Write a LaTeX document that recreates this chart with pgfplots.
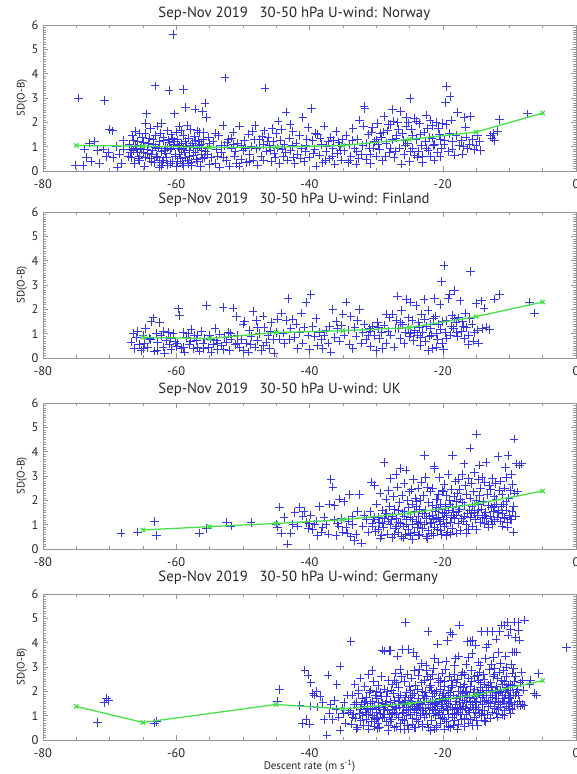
\documentclass[border=0pt]{standalone}
\usepackage{pgfplots}
\pgfplotsset{compat=1.18}
\usepackage{fontspec}
\setmainfont{PT Sans}

\definecolor{obsblue}{RGB}{55,55,228}
\definecolor{fitgreen}{RGB}{70,225,70}
\definecolor{framegray}{RGB}{150,150,150}

\pgfplotsset{
  panel/.style={
    scale only axis, width=533bp, height=146bp, anchor=north west,
    xmin=-80, xmax=0, ymin=0, ymax=6,
    xtick={-80,-60,...,0}, ytick={0,1,...,6},
    minor x tick num=3, minor y tick num=9,
    tick align=inside,
    major tick length=5bp, minor tick length=3bp,
    axis line style={framegray, line width=0.6bp},
    every tick/.style={framegray, line width=0.5bp},
    tick label style={font=\fontsize{12.5}{14}\selectfont, text=black!85},
    /pgf/number format/assume math mode=true,
    xticklabel style={anchor=center, yshift=-13bp},
    yticklabel style={anchor=center, xshift=-8bp},
    ylabel={SD(O-B)},
    every axis y label/.style={at={(axis description cs:-0.0394,0.5)}, rotate=90,
      anchor=center, font=\fontsize{11}{12}\selectfont, text=black!85},
    every axis x label/.style={at={(axis description cs:0.5,0)}, anchor=center,
      yshift=-26bp, font=\fontsize{11}{12}\selectfont, text=black!85},
    title style={at={(axis description cs:0.21,1)}, anchor=west,
      font=\fontsize{14.8}{16}\selectfont, text=black!85},
    clip marker paths=true,
  },
  obs/.style={only marks, mark=+, mark size=4.3bp, draw=obsblue, color=obsblue,
    mark options={draw=obsblue, line width=0.7bp}},
  binned/.style={draw=fitgreen, line width=1.3bp, mark=x, mark size=3bp,
    mark options={draw=fitgreen}},
}

\begin{document}
\begin{tikzpicture}

% ---------------- Norway ----------------
\begin{axis}[panel, at={(43bp,-25bp)}, title style={yshift=5bp},
  title={Sep-Nov 2019\ \ \ 30-50 hPa U-wind: Norway}]
\addplot[obs] coordinates {
(-75.2,0.25) (-74.0,0.22) (-74.7,3.0) (-73.5,0.55) (-73.0,1.15) (-72.3,1.2) (-71.8,0.85) (-71.0,0.9)
(-70.8,2.9) (-70.5,0.6) (-70.0,1.7) (-69.6,1.65) (-69.5,0.55) (-69.0,1.0) (-68.8,0.15) (-68.5,0.7)
(-68.2,0.3) (-67.9,1.25) (-68.0,0.9) (-72.8,0.4) (-71.5,0.3) (-70.2,0.75) (-73.8,0.9)
(-67.0,1.10) (-66.8,0.55) (-66.6,1.45) (-66.5,0.85) (-66.3,0.30) (-66.1,1.62) (-66.0,0.95) (-65.8,1.20)
(-65.6,0.62) (-65.5,0.42) (-65.3,1.05) (-65.1,1.38) (-65.0,0.75) (-64.8,0.20) (-64.7,1.55) (-64.5,2.35)
(-64.4,0.90) (-64.2,1.12) (-64.0,0.50) (-63.9,1.75) (-63.7,0.68) (-63.5,1.30) (-63.3,0.35) (-63.2,3.50)
(-63.1,0.98) (-62.9,1.85) (-62.8,0.58) (-62.6,1.22) (-62.5,0.15) (-62.3,0.80) (-62.2,1.95) (-62.0,1.40)
(-61.9,0.45) (-61.7,1.00) (-61.6,0.72) (-61.4,1.65) (-61.3,0.25) (-61.1,3.32) (-61.0,1.18) (-60.9,0.88)
(-60.8,1.50) (-60.6,0.40) (-60.5,5.62) (-60.4,1.08) (-60.3,2.35) (-60.1,0.62) (-60.0,0.18) (-59.9,1.28)
(-59.7,0.95) (-59.6,1.82) (-59.4,0.52) (-59.3,1.12) (-59.1,0.30) (-59.0,1.45) (-58.9,3.35) (-58.8,0.78)
(-58.6,2.62) (-58.5,1.02) (-58.3,0.45) (-58.2,1.35) (-58.0,0.85) (-57.9,1.70) (-57.7,0.22) (-57.6,1.15)
(-57.4,0.65) (-57.2,2.55) (-57.1,1.25) (-56.9,0.92) (-56.8,0.38) (-56.6,1.58) (-56.5,1.05) (-56.3,0.70)
(-56.1,2.45) (-56.0,1.30) (-55.8,0.55) (-55.7,2.80) (-55.5,2.20) (-55.4,0.95) (-55.2,1.40) (-55.0,0.28)
(-66.2,1.00) (-65.9,0.78) (-65.4,0.95) (-64.9,1.18) (-64.3,0.72) (-63.8,0.40) (-63.4,1.10) (-62.7,0.95)
(-62.4,1.55) (-61.8,0.85) (-61.2,1.28) (-60.7,0.95) (-60.2,0.70) (-59.8,0.38) (-59.2,0.88) (-58.7,1.20)
(-58.1,0.60) (-57.5,0.98) (-57.0,0.48) (-56.7,1.20) (-56.2,0.85) (-55.9,1.60) (-55.3,0.68) (-64.6,1.95)
(-62.1,0.35) (-60.0,1.60) (-58.4,1.88) (-57.8,0.35) (-56.4,0.18) (-63.6,0.85) (-61.5,0.55) (-59.5,1.05)
(-67.2,0.60) (-66.7,0.88)
(-66.9,0.75) (-66.4,1.25) (-65.7,0.50) (-65.2,0.88) (-64.1,1.35) (-63.0,0.62) (-62.6,0.42) (-61.4,0.95)
(-60.9,0.30) (-60.3,1.20) (-59.6,0.70) (-59.0,0.95) (-58.6,0.55) (-57.9,1.05) (-57.3,1.42) (-56.9,1.65)
(-56.3,1.10) (-55.6,0.80) (-55.1,1.15) (-64.6,0.58) (-63.1,1.45) (-61.9,1.25) (-60.6,1.35) (-59.3,1.65)
(-58.2,0.32) (-57.2,0.78) (-56.1,0.52) (-65.5,1.55) (-62.3,0.22) (-58.9,0.22)
(-54.8,0.55) (-54.5,1.20) (-54.2,0.32) (-54.0,0.90) (-53.7,1.45) (-53.5,0.15) (-53.2,0.75) (-53.0,1.88)
(-52.8,1.05) (-52.7,3.83) (-52.5,0.42) (-52.2,1.30) (-52.0,0.20) (-51.8,0.95) (-51.5,1.60) (-51.3,0.62)
(-51.0,0.30) (-50.8,1.15) (-50.5,1.85) (-50.3,0.48) (-50.0,0.85) (-49.8,1.25) (-49.5,0.35) (-49.2,1.52)
(-49.0,0.70) (-48.8,1.00) (-48.5,0.45) (-48.2,1.88) (-48.0,0.92) (-47.8,0.25) (-47.5,1.30) (-47.3,0.60)
(-47.0,1.10) (-46.8,1.65) (-46.7,3.41) (-46.5,0.82) (-46.2,1.40) (-46.0,1.05) (-45.8,0.38) (-45.5,1.22)
(-45.3,0.72) (-45.0,1.55) (-44.8,0.95) (-44.5,0.30) (-44.2,1.70) (-44.0,0.62) (-43.8,1.08) (-43.5,2.42)
(-43.3,0.45) (-43.0,1.35) (-42.8,0.85) (-42.5,1.62) (-42.2,0.30) (-42.0,1.15) (-41.8,0.68) (-41.5,1.45)
(-41.2,0.92) (-41.0,2.20) (-40.8,0.40) (-40.5,1.05) (-40.2,1.78) (-40.0,0.58) (-39.7,2.56) (-39.5,1.25)
(-39.2,0.88) (-39.0,0.20) (-38.8,1.50) (-38.5,0.65) (-38.2,1.10) (-38.0,0.35) (-37.8,1.85) (-37.5,0.80)
(-37.2,1.20) (-37.0,0.50) (-36.8,1.40) (-36.5,0.95) (-36.2,0.28) (-36.0,1.62) (-35.8,0.72) (-35.5,1.05)
(-35.2,0.45) (-35.0,1.30)
(-53.8,0.62) (-52.4,1.18) (-51.2,0.82) (-50.2,1.05) (-49.0,0.40) (-47.6,0.98) (-46.4,1.22) (-45.2,0.55)
(-44.4,1.25) (-43.6,0.78) (-42.6,1.05) (-41.4,0.50) (-40.4,1.30) (-39.4,0.72) (-38.4,1.35) (-37.4,1.02)
(-36.6,0.60) (-35.6,1.18) (-48.6,1.62) (-44.7,2.05) (-42.9,1.92) (-50.6,0.20) (-53.3,1.05) (-45.9,0.85)
(-47.1,1.42) (-51.7,1.35)
(-54.1,1.55) (-52.9,0.55) (-51.4,1.08) (-49.6,0.95) (-48.3,1.28) (-46.9,0.45) (-45.6,1.75) (-44.1,0.90)
(-42.4,0.58) (-40.6,0.80) (-39.1,1.55) (-37.6,0.42) (-36.4,1.25) (-35.4,0.85)
(-34.8,0.85) (-34.5,1.45) (-34.2,0.35) (-34.0,1.10) (-33.8,0.62) (-33.5,1.75) (-33.2,0.92) (-33.0,0.28)
(-32.8,1.30) (-32.5,2.10) (-32.2,0.70) (-32.0,1.05) (-31.8,2.65) (-31.7,2.58) (-31.5,0.48) (-31.2,1.50)
(-31.0,0.95) (-30.8,0.30) (-30.5,1.78) (-30.2,1.20) (-30.0,0.62) (-29.8,1.95) (-29.5,0.88) (-29.2,1.40)
(-29.0,0.42) (-28.8,2.25) (-28.5,1.12) (-28.3,1.65) (-28.0,0.75) (-27.8,1.90) (-27.5,2.52) (-27.3,0.55)
(-27.0,1.35) (-26.8,2.00) (-26.5,0.95) (-26.3,2.45) (-26.0,1.55) (-25.8,0.68) (-25.5,1.85) (-25.3,1.15)
(-25.0,0.40) (-24.9,2.97) (-24.7,1.72) (-24.5,0.92) (-24.2,2.15) (-24.0,1.30) (-23.8,0.58) (-23.5,1.95)
(-23.2,1.05) (-23.0,0.35) (-22.8,1.60) (-22.5,2.30) (-22.2,0.85) (-22.0,1.40) (-21.8,0.62) (-21.5,1.88)
(-21.2,1.10) (-21.0,2.00) (-20.8,0.75) (-20.5,1.50) (-20.2,0.95) (-20.0,1.95) (-19.7,1.25) (-19.6,2.81)
(-19.4,3.47) (-18.9,3.07) (-19.2,0.80) (-19.0,1.55) (-18.7,2.10) (-18.5,1.20) (-18.2,0.65) (-18.0,1.45)
(-17.8,2.40) (-17.5,1.05)
(-33.6,1.25) (-32.6,0.50) (-31.4,1.15) (-30.4,0.95) (-29.4,1.55) (-28.6,0.60) (-27.6,1.30) (-26.6,1.70)
(-25.6,1.05) (-24.6,1.45) (-23.6,0.80) (-22.6,1.20) (-21.6,1.35) (-20.6,1.75) (-19.8,1.10) (-26.2,0.28)
(-28.2,1.90) (-23.9,2.05) (-21.3,0.45) (-29.9,1.28) (-25.2,1.98) (-22.4,0.95) (-20.3,1.30) (-27.1,0.82)
(-24.3,0.65) (-30.7,1.60)
(-33.9,0.45) (-32.9,0.80) (-31.9,1.85) (-30.9,0.70) (-29.7,1.10) (-28.9,1.60) (-27.9,0.95) (-26.9,1.45)
(-25.9,1.25) (-24.8,0.80) (-23.4,1.50) (-22.3,1.75) (-21.4,1.05) (-20.4,0.60) (-19.5,1.90) (-18.6,0.90)
(-27.4,2.05) (-25.4,2.20) (-23.1,0.60) (-21.9,2.10)
(-17.2,1.25) (-16.8,2.20) (-16.6,1.80) (-16.5,1.40) (-16.3,0.92) (-16.0,1.10) (-15.8,2.25) (-15.5,1.30)
(-15.3,0.88) (-15.0,1.05) (-14.8,1.45) (-14.5,1.20) (-14.3,0.85) (-12.8,1.45) (-12.6,1.35) (-12.4,1.55)
(-12.2,1.25) (-11.8,1.62) (-11.5,2.12) (-7.3,2.35) (-16.9,1.00) (-17.0,0.70)
};
\addplot[binned] coordinates {
(-75,1.05) (-65,1.02) (-55,0.97) (-45,0.98) (-35,1.05) (-25,1.30) (-15,1.60) (-5,2.38)
};
\end{axis}

% ---------------- Finland ----------------
\begin{axis}[panel, at={(43bp,-212bp)}, title style={yshift=6bp},
  title={Sep-Nov 2019\ \ \ 30-50 hPa U-wind: Finland}]
\addplot[obs] coordinates {
(-66.8,0.65) (-66.5,1.02) (-66.3,0.40) (-66.0,0.85) (-65.8,1.10) (-65.5,0.55) (-65.3,0.30) (-65.0,0.95)
(-64.8,0.60) (-64.6,1.20) (-64.3,0.42) (-64.0,0.80) (-63.8,1.50) (-63.5,1.65) (-63.3,0.28) (-63.0,1.00)
(-62.8,0.65) (-62.5,1.45) (-62.3,0.92) (-62.0,0.45) (-61.8,0.20) (-61.5,0.72) (-61.2,1.05) (-61.0,0.58)
(-60.8,0.35) (-60.5,1.00) (-60.2,0.68) (-60.0,0.48) (-59.7,2.02) (-59.5,1.75) (-59.3,0.40) (-59.0,1.05)
(-58.8,0.25) (-58.5,0.85) (-58.2,1.00) (-58.0,0.55) (-57.8,1.18) (-57.5,0.38) (-57.3,0.92) (-57.0,0.72)
(-56.8,0.45) (-56.5,0.28) (-56.2,1.10) (-56.0,0.62) (-55.8,0.80) (-55.5,2.15) (-55.2,0.42) (-55.0,0.95)
(-54.8,0.25) (-54.5,0.58) (-54.2,1.20) (-54.0,0.72) (-53.8,0.35) (-53.5,0.98) (-53.2,0.50) (-53.0,2.08)
(-52.8,0.85) (-52.5,0.65) (-52.2,1.05) (-52.0,0.30) (-51.8,0.78) (-51.5,2.05) (-51.2,0.55) (-51.0,1.70)
(-50.8,0.95) (-50.5,0.42) (-50.2,0.75) (-50.0,1.40) (-49.8,1.50) (-49.5,0.62) (-49.2,0.25) (-49.0,1.15)
(-48.8,0.88) (-48.5,1.92) (-48.2,0.45) (-48.0,1.55) (-47.8,0.72) (-47.5,1.00) (-47.2,0.30) (-47.0,1.72)
(-46.8,1.25) (-46.5,0.65) (-46.2,0.92) (-46.0,0.40) (-45.8,1.45) (-45.5,0.75) (-45.3,0.20) (-45.0,1.05)
(-64.9,0.40) (-63.9,0.75) (-62.9,0.30) (-61.9,1.10) (-60.9,0.80) (-59.9,0.62) (-58.9,0.42) (-57.9,0.70)
(-56.9,0.95) (-55.9,0.38) (-54.9,0.78) (-53.9,0.60) (-52.9,0.35) (-51.9,1.00) (-50.9,0.62) (-49.9,0.30)
(-48.9,0.55) (-47.9,1.25) (-46.9,0.50) (-45.9,1.10)
(-44.8,1.60) (-44.5,0.78) (-44.2,1.85) (-44.0,1.02) (-43.8,0.60) (-43.5,1.55) (-43.2,2.45) (-43.0,0.75)
(-42.8,1.20) (-42.5,1.60) (-42.2,0.85) (-42.0,1.40) (-41.8,0.40) (-41.5,1.05) (-41.2,1.85) (-41.0,0.62)
(-40.8,1.25) (-40.5,2.28) (-40.2,0.95) (-40.0,0.35) (-39.8,2.62) (-39.5,1.30) (-39.2,0.88) (-39.0,1.62)
(-38.8,0.50) (-38.5,1.05) (-38.2,0.75) (-38.0,0.40) (-37.8,0.95) (-37.5,1.15) (-37.2,0.62) (-37.0,1.30)
(-36.8,0.25) (-36.5,2.00) (-36.2,0.85) (-36.0,1.50) (-35.8,1.20) (-35.5,0.70) (-35.2,1.35) (-35.0,1.80)
(-34.8,0.95) (-34.5,2.30) (-34.2,1.15) (-34.0,0.55) (-33.8,1.70) (-33.5,0.40) (-33.2,1.25) (-33.0,0.90)
(-32.8,1.55) (-32.5,2.00) (-32.2,0.62) (-32.0,1.05) (-31.8,1.40) (-31.5,0.75) (-31.2,0.95) (-31.0,1.20)
(-30.8,0.48) (-30.5,1.30) (-30.2,0.92) (-30.0,0.30) (-29.8,1.45) (-29.5,0.80) (-29.2,1.05) (-29.0,0.38)
(-28.8,1.35) (-28.5,0.62) (-28.2,1.10) (-28.0,1.65)
(-27.8,0.95) (-27.5,1.80) (-27.3,0.45) (-27.0,1.55) (-26.8,2.55) (-26.6,1.20) (-26.4,0.80) (-26.2,1.95)
(-26.0,1.40) (-25.8,0.60) (-25.6,1.05) (-25.4,2.40) (-25.2,1.25) (-25.0,0.88) (-24.8,2.30) (-24.6,1.55)
(-24.4,0.72) (-24.2,1.15) (-24.0,2.15) (-23.8,0.95) (-23.6,1.45) (-23.4,0.50) (-23.2,1.80) (-23.0,1.05)
(-22.8,2.40) (-22.6,0.68) (-22.4,1.30) (-22.2,1.95) (-22.0,0.90) (-21.8,1.20) (-21.6,0.40) (-21.4,1.62)
(-21.2,2.45) (-21.0,1.00) (-20.8,0.75) (-20.6,1.40) (-20.4,2.20) (-20.2,3.15) (-20.0,0.60) (-19.8,3.80)
(-19.6,1.05) (-19.4,1.55) (-19.2,2.45) (-19.0,2.62) (-18.8,0.95) (-18.6,1.75) (-18.4,1.20) (-18.2,2.78)
(-18.0,1.45) (-17.8,0.88) (-17.6,1.65) (-17.4,2.35) (-17.2,1.10) (-17.0,1.50) (-16.8,0.80) (-16.6,1.85)
(-16.4,1.25) (-16.2,0.55) (-16.0,1.62) (-15.8,3.55) (-15.6,1.40) (-15.4,0.70) (-15.2,1.05) (-15.0,2.25)
(-14.8,1.15) (-14.6,0.62) (-14.2,2.35) (-14.0,1.20) (-13.8,2.05) (-13.5,1.28) (-13.0,1.18) (-12.2,2.42)
(-11.5,2.62) (-7.0,2.30) (-6.2,1.85)
(-25.1,1.65) (-24.3,1.05) (-23.5,1.25) (-22.7,1.60) (-21.9,1.40) (-21.1,1.72) (-20.3,1.18) (-19.5,0.82)
(-18.7,1.30) (-17.9,1.05) (-20.9,0.45) (-22.1,0.30) (-19.9,0.35) (-23.3,0.85) (-26.3,1.45) (-27.1,1.20)
(-28.4,1.80) (-29.6,1.25) (-30.9,1.10) (-24.9,1.00) (-21.7,0.95) (-20.1,1.50) (-18.3,1.62) (-16.9,1.30)
(-16.1,0.95)
};
\addplot[binned] coordinates {
(-65,0.85) (-55,0.80) (-45,1.05) (-35,1.12) (-25,1.25) (-15,1.70) (-5,2.30)
};
\end{axis}

% ---------------- UK ----------------
\begin{axis}[panel, at={(43bp,-403bp)}, title style={yshift=7bp},
  title={Sep-Nov 2019\ \ \ 30-50 hPa U-wind: UK}]
\addplot[obs] coordinates {
(-68.3,0.65) (-65.8,0.70) (-63.3,1.12) (-63.0,0.55) (-56.5,0.65) (-55.5,0.85) (-52.5,1.08) (-51.8,0.95)
(-48.8,1.10) (-44.8,0.90) (-44.5,1.72) (-44.2,0.65) (-43.3,0.20) (-42.8,0.65) (-42.2,1.50) (-41.5,1.70)
(-41.0,1.35) (-40.5,1.10) (-40.2,0.85) (-39.8,1.40) (-39.5,0.80) (-39.0,1.15) (-38.5,1.75) (-38.0,0.90)
(-37.5,1.00) (-37.2,0.62) (-36.8,2.85) (-36.5,2.55) (-36.2,1.80) (-36.0,0.55) (-35.8,1.05) (-35.5,2.05)
(-35.2,1.25) (-35.0,0.70) (-34.8,1.95) (-34.5,0.88) (-34.2,1.15) (-34.0,2.25) (-33.8,0.50) (-33.5,1.00)
(-33.2,0.35) (-33.0,0.60) (-32.8,1.55) (-32.5,2.25) (-32.2,0.25) (-32.0,0.95) (-31.8,1.40) (-31.5,1.20)
(-31.2,0.70) (-43.8,1.30) (-42.5,1.00) (-41.8,0.95) (-40.8,1.55) (-38.8,0.55) (-37.8,1.30) (-37.0,1.85)
(-36.3,1.20) (-35.6,0.95) (-34.3,0.65) (-33.6,1.35) (-38.2,0.70) (-39.2,1.02) (-40.0,1.05) (-45.0,1.02)
(-30.9,1.55) (-30.7,2.75) (-30.5,0.95) (-30.4,1.20) (-30.2,2.60) (-30.1,0.72)
(-29.9,1.85) (-29.7,0.80) (-29.6,1.30) (-29.4,2.30) (-29.2,0.55) (-29.1,1.05) (-29.0,1.60)
(-28.9,0.90) (-28.8,3.55) (-28.6,1.45) (-28.5,2.05) (-28.3,0.62) (-28.2,1.15) (-28.1,2.40) (-28.0,1.75)
(-27.9,1.00) (-27.8,2.90) (-27.6,0.48) (-27.5,1.35) (-27.4,2.15) (-27.2,1.62) (-27.1,0.85) (-27.0,3.05)
(-26.9,1.25) (-26.8,2.55) (-26.7,0.70) (-26.5,1.90) (-26.4,3.30) (-26.3,1.05) (-26.2,0.50) (-26.1,2.20)
(-26.0,1.45) (-26.6,1.10)
(-25.9,0.95) (-25.8,2.70) (-25.7,1.55) (-25.6,0.60) (-25.5,3.25) (-25.4,1.20) (-25.3,2.00) (-25.2,0.80)
(-25.1,1.70) (-25.0,2.35) (-25.5,1.02)
(-24.9,1.30) (-24.8,0.55) (-24.7,2.45) (-24.6,1.85) (-24.5,1.00) (-24.4,2.85) (-24.3,0.70) (-24.2,1.55)
(-24.1,2.10) (-24.0,1.15) (-24.5,0.40)
(-23.9,1.75) (-23.8,0.90) (-23.7,2.50) (-23.6,1.35) (-23.5,0.60) (-23.4,2.00) (-23.3,1.10) (-23.2,2.75)
(-23.1,1.45) (-23.0,0.85) (-23.5,1.65)
(-22.9,2.20) (-22.8,1.00) (-22.7,3.85) (-22.6,1.60) (-22.5,0.50) (-22.4,1.25) (-22.3,2.55) (-22.2,0.75)
(-22.1,1.90) (-22.0,1.35) (-22.6,2.95)
(-21.9,1.05) (-21.8,2.35) (-21.7,0.65) (-21.6,1.80) (-21.5,2.50) (-21.4,1.20) (-21.3,3.40) (-21.2,0.90)
(-21.1,1.55) (-21.0,2.05) (-21.6,1.40) (-21.2,3.30)
(-20.9,1.70) (-20.8,0.80) (-20.7,2.25) (-20.6,1.30) (-20.5,2.95) (-20.4,1.00) (-20.3,1.85) (-20.2,0.60)
(-20.1,2.40) (-20.0,1.50) (-20.5,1.15) (-20.8,2.05)
(-19.9,1.20) (-19.8,2.65) (-19.7,0.95) (-19.6,1.75) (-19.5,2.20) (-19.4,1.40) (-19.3,0.70) (-19.2,3.05)
(-19.1,1.60) (-19.0,2.00) (-19.5,1.05) (-19.9,2.35)
(-18.9,1.85) (-18.8,1.10) (-18.7,2.45) (-18.6,0.85) (-18.5,3.85) (-18.4,1.50) (-18.3,2.15) (-18.2,1.25)
(-18.1,2.80) (-18.0,0.65) (-18.5,1.70)
(-17.9,1.40) (-17.8,2.30) (-17.7,1.05) (-17.6,2.85) (-17.5,1.65) (-17.4,0.75) (-17.3,2.05) (-17.2,1.25)
(-17.1,3.05) (-17.0,1.90) (-17.5,2.45)
(-16.9,1.15) (-16.8,3.50) (-16.7,1.80) (-16.6,2.60) (-16.5,1.00) (-16.4,2.25) (-16.3,1.45) (-16.2,0.80)
(-16.1,2.90) (-16.0,1.60) (-15.9,4.15)
(-15.9,2.10) (-15.8,1.30) (-15.7,2.70) (-15.6,1.75) (-15.5,0.95) (-15.4,2.35) (-15.3,1.50) (-15.2,3.15)
(-15.1,1.20) (-15.0,2.00) (-14.9,4.72)
(-14.8,1.40) (-14.7,2.85) (-14.6,1.85) (-14.5,3.45) (-14.4,1.10) (-14.3,2.50) (-14.2,1.65) (-14.1,2.95)
(-14.0,1.30) (-14.5,2.20)
(-13.9,1.95) (-13.8,1.05) (-13.7,2.75) (-13.6,1.50) (-13.5,3.55) (-13.4,1.25) (-13.3,2.25) (-13.2,0.90)
(-13.1,1.80) (-13.0,2.60)
(-12.9,1.35) (-12.8,2.45) (-12.7,1.70) (-12.6,1.00) (-12.5,2.90) (-12.4,1.55) (-12.3,2.15) (-12.2,1.20)
(-12.1,2.70) (-12.0,1.85)
(-11.9,2.05) (-11.8,1.30) (-11.7,3.80) (-11.6,1.60) (-11.5,2.40) (-11.4,1.15) (-11.3,2.80) (-11.2,1.75)
(-11.1,2.25) (-11.0,1.45)
(-10.9,1.85) (-10.8,1.25) (-10.7,2.50) (-10.6,3.35) (-10.5,1.60) (-10.4,2.95) (-10.3,1.10) (-10.2,3.85)
(-10.1,2.10) (-10.0,1.40) (-10.5,1.95)
(-9.9,2.40) (-9.8,1.20) (-9.7,3.05) (-9.6,1.55) (-9.5,2.65) (-9.4,1.75) (-9.3,4.52) (-9.2,2.30)
(-9.1,1.35) (-9.0,3.50) (-9.4,0.70) (-8.2,3.50) (-8.8,2.35) (-8.5,3.45)
(-29.3,0.45) (-27.3,0.60) (-25.9,0.45) (-24.9,0.65) (-23.6,0.55) (-22.3,0.42) (-21.4,0.58) (-20.3,0.75)
(-19.4,0.55) (-18.8,0.62) (-16.4,0.65) (-14.9,0.80) (-13.1,1.00) (-11.1,0.95) (-10.3,0.90)
(-30.3,1.30) (-29.5,1.10) (-28.7,1.25) (-27.7,1.20) (-26.7,1.60) (-25.7,1.35) (-24.6,1.20) (-23.7,1.05)
(-22.7,1.45) (-21.7,1.10) (-20.7,1.65) (-19.7,1.45) (-18.7,1.30) (-17.7,1.55) (-16.7,1.35) (-15.7,1.45)
(-14.7,1.60) (-13.7,1.40) (-12.7,1.15) (-11.7,1.50) (-10.7,1.30) (-9.7,1.20) (-12.3,1.75) (-15.2,1.85)
(-17.9,1.95) (-20.9,1.25) (-23.9,1.95) (-26.9,0.95) (-28.4,1.45) (-30.6,1.05)
};
\addplot[binned] coordinates {
(-65,0.78) (-55,0.92) (-45,1.05) (-35,1.20) (-25,1.48) (-15,1.85) (-5,2.38)
};
\end{axis}

% ---------------- Germany ----------------
\begin{axis}[panel, at={(43bp,-594bp)}, title style={yshift=10bp},
  title={Sep-Nov 2019\ \ \ 30-50 hPa U-wind: Germany},
  xlabel={Descent rate (m s\textsuperscript{-1})}]
\addplot[obs] coordinates {
(-71.8,0.72) (-70.8,1.55) (-70.5,1.70) (-70.2,1.62) (-63.3,0.70) (-63.0,0.75) (-44.8,1.60) (-44.5,2.08)
(-41.1,0.68) (-40.5,0.84) (-40.7,2.88) (-40.2,2.67) (-39.8,2.35) (-39.5,1.90) (-39.3,1.85) (-38.9,2.00)
(-38.4,1.78) (-38.8,1.35) (-38.0,1.55) (-37.4,0.20) (-37.2,2.67) (-37.0,1.10) (-36.8,1.45) (-36.5,0.85)
(-36.2,1.65) (-35.9,2.28) (-35.6,0.95) (-35.4,3.04) (-35.4,0.41) (-35.1,1.30) (-34.8,1.55) (-34.6,0.70)
(-34.3,1.85) (-34.1,1.15) (-33.8,4.04) (-33.5,0.95) (-33.3,1.45) (-32.9,0.50) (-39.9,1.40) (-41.5,1.42)
(-37.8,0.85) (-36.0,1.25) (-34.9,1.10) (-40.0,0.65)
(-33.9,1.20) (-33.7,0.65) (-33.6,1.85) (-33.4,1.05) (-33.2,2.30) (-33.1,0.90) (-33.0,1.55)
(-32.9,1.35) (-32.8,0.50) (-32.7,1.90) (-32.5,1.10) (-32.4,2.55) (-32.3,0.80) (-32.2,1.45) (-32.1,1.70)
(-32.0,1.00) (-32.6,2.05)
(-31.9,0.60) (-31.8,1.55) (-31.7,2.20) (-31.6,1.15) (-31.5,0.85) (-31.4,1.75) (-31.3,1.30) (-31.2,2.70)
(-31.1,0.45) (-31.0,1.95) (-31.5,1.05) (-31.7,1.40)
(-30.9,1.25) (-30.8,2.05) (-30.7,0.75) (-30.6,1.60) (-30.5,1.00) (-30.4,2.40) (-30.3,1.40) (-30.2,0.55)
(-30.1,1.85) (-30.0,1.15) (-30.6,2.85) (-30.3,0.95) (-30.8,1.50)
(-29.9,1.70) (-29.8,0.90) (-29.7,2.25) (-29.6,1.35) (-29.5,0.50) (-29.4,1.95) (-29.3,1.10) (-29.2,2.60)
(-29.1,1.50) (-29.0,3.70) (-29.5,1.25) (-29.7,0.70) (-29.2,1.80) (-29.9,2.00)
(-28.9,1.05) (-28.8,2.10) (-28.7,3.65) (-28.6,1.45) (-28.5,0.75) (-28.4,1.80) (-28.3,1.20) (-28.2,2.45)
(-28.1,0.60) (-28.0,3.68) (-28.5,1.60) (-28.7,0.95) (-28.3,2.00) (-28.9,1.35)
(-27.9,1.55) (-27.8,3.68) (-27.7,0.85) (-27.6,2.30) (-27.5,1.25) (-27.4,1.90) (-27.3,0.50) (-27.2,1.65)
(-27.1,2.75) (-27.0,1.05) (-27.5,1.40) (-27.7,2.05) (-27.3,1.15) (-27.9,0.75) (-27.2,2.45)
(-26.9,1.30) (-26.8,3.45) (-26.7,0.95) (-26.6,2.15) (-26.5,1.60) (-26.4,0.45) (-26.3,1.85) (-26.2,2.60)
(-26.1,3.72) (-26.0,1.10) (-26.5,1.35) (-26.7,1.75) (-26.3,0.70) (-26.9,2.35) (-26.1,1.50) (-26.4,2.90)
(-25.9,1.45) (-25.8,0.80) (-25.7,2.40) (-25.6,4.82) (-25.5,1.20) (-25.4,1.95) (-25.3,0.60) (-25.2,3.73)
(-25.1,1.65) (-25.0,2.20) (-25.5,1.00) (-25.7,1.55) (-25.3,2.70) (-25.9,1.15) (-25.1,0.45) (-25.4,1.35)
(-24.9,1.75) (-24.8,1.05) (-24.7,2.55) (-24.6,0.65) (-24.5,1.40) (-24.4,3.60) (-24.3,1.90) (-24.2,1.15)
(-24.1,2.25) (-24.0,3.45) (-24.5,0.90) (-24.7,1.60) (-24.3,1.30) (-24.9,2.05) (-24.1,0.50) (-24.6,1.85)
(-24.2,2.85)
(-23.9,1.25) (-23.8,2.10) (-23.7,0.75) (-23.6,1.70) (-23.5,2.90) (-23.4,1.00) (-23.3,1.50) (-23.2,2.35)
(-23.1,0.55) (-23.0,1.85) (-23.5,1.35) (-23.7,2.65) (-23.3,1.10) (-23.9,0.85) (-23.1,2.00) (-23.6,1.55)
(-23.2,3.15)
(-22.9,1.60) (-22.8,0.95) (-22.7,2.45) (-22.6,1.30) (-22.5,3.05) (-22.4,1.80) (-22.3,0.65) (-22.2,4.45)
(-22.1,1.45) (-22.0,2.15) (-22.5,1.05) (-22.7,1.70) (-22.3,2.60) (-22.9,1.20) (-22.1,0.50) (-22.6,1.95)
(-22.4,2.85)
(-21.9,1.35) (-21.8,2.25) (-21.7,0.80) (-21.6,1.65) (-21.5,2.70) (-21.4,1.10) (-21.3,1.90) (-21.2,3.35)
(-21.1,1.50) (-21.0,0.60) (-21.5,1.25) (-21.7,2.05) (-21.3,1.45) (-21.9,2.50) (-21.1,1.00) (-21.6,1.80)
(-21.2,0.45) (-21.4,2.95)
(-20.9,1.55) (-20.8,3.95) (-20.7,1.05) (-20.6,2.35) (-20.5,1.70) (-20.4,0.70) (-20.3,2.10) (-20.2,1.30)
(-20.1,2.75) (-20.0,1.85) (-20.5,1.15) (-20.7,2.55) (-20.3,0.90) (-20.9,2.00) (-20.1,1.45) (-20.6,3.20)
(-20.2,1.60) (-20.4,2.45)
(-19.9,1.20) (-19.8,2.20) (-19.7,0.85) (-19.6,1.75) (-19.5,3.25) (-19.4,1.40) (-19.3,4.10) (-19.2,2.05)
(-19.1,1.05) (-19.0,2.60) (-19.5,1.60) (-19.7,2.40) (-19.3,1.25) (-19.9,1.90) (-19.1,0.55) (-19.6,2.90)
(-19.2,1.50) (-19.4,0.75)
(-18.9,4.41) (-18.8,1.35) (-18.7,2.15) (-18.6,0.95) (-18.5,4.35) (-18.4,1.85) (-18.3,2.70) (-18.2,1.10)
(-18.1,3.35) (-18.0,1.60) (-18.5,1.25) (-18.7,2.45) (-18.3,0.80) (-18.9,1.95) (-18.1,1.45) (-18.6,2.25)
(-18.2,3.05) (-18.4,0.60)
(-17.9,1.70) (-17.8,2.50) (-17.7,1.15) (-17.6,3.45) (-17.5,4.73) (-17.4,1.35) (-17.3,2.20) (-17.2,0.85)
(-17.1,1.90) (-17.0,2.80) (-17.5,1.55) (-17.7,2.00) (-17.3,1.05) (-17.9,2.35) (-17.1,1.25) (-17.6,0.65)
(-17.2,2.65) (-17.4,1.80)
(-16.9,1.40) (-16.8,2.30) (-16.7,0.90) (-16.6,1.95) (-16.5,3.10) (-16.4,1.55) (-16.3,4.05) (-16.2,1.20)
(-16.1,2.55) (-16.0,1.75) (-16.5,1.05) (-16.7,2.70) (-16.3,1.85) (-16.9,2.15) (-16.1,0.70) (-16.6,1.30)
(-16.2,3.40) (-16.4,2.00)
(-15.9,4.05) (-15.8,1.60) (-15.7,2.40) (-15.6,3.55) (-15.5,4.10) (-15.4,1.25) (-15.3,2.10) (-15.2,0.95)
(-15.1,3.90) (-15.0,1.80) (-15.5,1.45) (-15.7,2.85) (-15.3,1.70) (-15.9,2.20) (-15.1,1.15) (-15.6,0.60)
(-15.2,2.60) (-15.4,1.95)
(-14.9,1.35) (-14.8,2.65) (-14.7,1.90) (-14.6,3.20) (-14.5,1.10) (-14.4,2.35) (-14.3,1.60) (-14.2,4.45)
(-14.1,2.05) (-14.0,1.45) (-14.5,2.80) (-14.7,1.25) (-14.3,2.15) (-14.9,0.80) (-14.1,1.75) (-14.6,2.45)
(-14.2,1.00) (-14.4,3.05)
(-13.9,1.85) (-13.8,2.50) (-13.7,1.20) (-13.6,3.35) (-13.5,3.80) (-13.4,1.65) (-13.3,4.45) (-13.2,2.25)
(-13.1,1.40) (-13.0,2.90) (-13.5,1.95) (-13.7,2.30) (-13.3,1.05) (-13.9,2.70) (-13.1,1.55) (-13.6,0.75)
(-13.2,3.94) (-13.4,2.05)
(-12.9,1.50) (-12.8,2.35) (-12.7,3.10) (-12.6,4.45) (-12.5,1.75) (-12.4,2.60) (-12.3,1.30) (-12.2,2.95)
(-12.1,1.95) (-12.0,4.15) (-12.5,1.15) (-12.7,2.15) (-12.3,2.70) (-12.9,0.90) (-12.1,1.60) (-12.6,2.05)
(-12.2,1.40) (-12.4,3.40)
(-11.9,1.70) (-11.8,2.55) (-11.7,1.25) (-11.6,3.60) (-11.5,4.45) (-11.4,2.00) (-11.3,1.45) (-11.2,4.72)
(-11.1,2.30) (-11.0,1.85) (-11.5,2.80) (-11.7,1.55) (-11.3,3.15) (-11.9,2.20) (-11.1,1.05) (-11.6,1.90)
(-11.2,2.45) (-11.4,1.35)
(-10.9,1.60) (-10.8,2.40) (-10.7,4.73) (-10.6,1.95) (-10.5,3.00) (-10.4,1.40) (-10.3,4.82) (-10.2,4.31)
(-10.1,2.25) (-10.0,1.75) (-10.5,2.60) (-10.7,1.20) (-10.3,2.05) (-10.9,2.85) (-10.1,1.50) (-10.6,3.45)
(-10.2,1.85) (-10.4,2.15)
(-9.9,2.05) (-9.8,4.55) (-9.7,1.55) (-9.6,2.75) (-9.5,3.62) (-9.4,1.85) (-9.3,2.40) (-9.2,4.85)
(-9.1,4.22) (-9.0,1.95) (-9.5,2.25) (-9.7,3.10) (-9.3,1.45) (-9.9,1.70) (-9.1,2.60) (-9.6,1.25)
(-9.2,3.62) (-9.4,2.95)
(-8.9,3.62) (-8.8,1.45) (-8.7,4.85) (-8.6,4.49) (-8.5,4.11) (-8.4,2.35) (-8.3,1.40) (-8.2,2.80)
(-8.1,1.45) (-8.0,2.45) (-8.6,1.85) (-8.8,2.10) (-7.7,4.93) (-7.9,2.05) (-7.8,1.41) (-7.0,2.30)
(-6.8,2.45) (-6.3,1.90) (-5.9,1.85) (-5.6,2.74) (-1.4,3.81)
(-32.9,0.45) (-31.2,0.62) (-29.8,0.48) (-28.2,0.40) (-27.0,0.55) (-25.8,0.42) (-24.3,0.50) (-23.0,0.65)
(-21.8,0.40) (-20.9,0.52) (-19.8,0.45) (-18.8,0.50) (-17.8,0.45) (-16.8,0.55) (-15.8,0.85) (-14.8,0.60)
(-13.8,0.80) (-12.8,0.90) (-11.8,0.95) (-10.8,1.00) (-9.8,1.10)
(-32.4,1.25) (-31.6,1.60) (-30.5,1.30) (-29.6,1.55) (-28.8,1.25) (-27.6,1.10) (-26.6,1.45) (-25.6,1.75)
(-24.8,1.50) (-23.8,1.45) (-22.8,1.85) (-21.8,1.55) (-20.8,1.40) (-19.8,1.65) (-18.8,1.70) (-17.8,1.30)
(-16.8,1.65) (-15.8,1.35) (-14.8,1.95) (-13.8,1.60) (-12.8,1.85) (-11.8,2.05) (-10.8,1.70) (-9.8,2.30)
(-31.1,1.05) (-29.1,0.95) (-27.1,1.35) (-25.1,1.25) (-23.1,1.30) (-21.1,1.20) (-19.1,1.85) (-17.1,1.55)
(-15.1,1.55) (-13.1,2.15) (-11.1,1.60) (-9.1,1.85) (-30.0,0.85) (-28.0,1.05) (-26.0,0.85) (-24.0,1.20)
(-22.0,1.10) (-20.0,0.95) (-18.0,1.05) (-16.0,1.15) (-14.0,1.20) (-12.0,1.10) (-10.0,1.30) (-8.5,1.60)
};
\addplot[binned] coordinates {
(-75,1.38) (-65,0.72) (-45,1.46) (-35,1.28) (-25,1.50) (-15,1.85) (-5,2.44)
};
\end{axis}

\pgfresetboundingbox
\path[use as bounding box] (0,0) rectangle (577bp,-774bp);
\end{tikzpicture}
\end{document}
